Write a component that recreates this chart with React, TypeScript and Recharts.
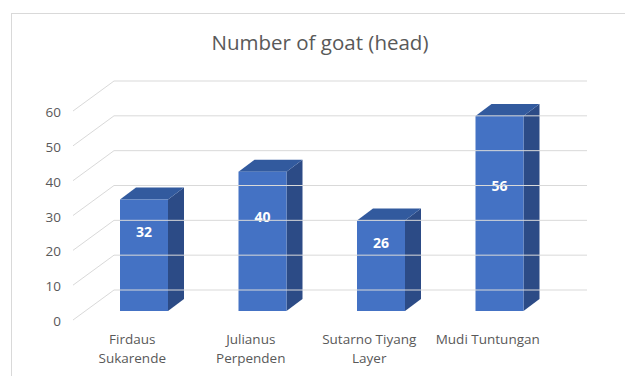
import { BarChart, Bar, XAxis, YAxis } from "recharts";

const categories = ["Firdaus Sukarende", "Julianus Perpenden", "Sutarno Tiyang Layer", "Mudi Tuntungan"];
const categoryLines = [["Firdaus", "Sukarende"], ["Julianus", "Perpenden"], ["Sutarno Tiyang", "Layer"], ["Mudi Tuntungan"]];
const goats = [32, 40, 26, 56];
const yTicks = [0, 10, 20, 30, 40, 50, 60];

const data = categories.map((name, i) => ({ name, goats: goats[i] }));

const W = 625;
const H = 376;
const MARGIN = { top: 102, right: 66, bottom: 25, left: 0 };
const PLOT_RIGHT = W - MARGIN.right;
const FONT = "'Open Sans', 'Noto Sans', sans-serif";
const TEXT = "#595959";
const GRID = "#d9d9d9";

// bar depth offsets (pseudo 3D)
const DX = 16;
const DY = 12;

const YTick = ({ x, y, payload }: any) => (
  <g>
    <line x1={x + 29} y1={y - 21} x2={PLOT_RIGHT + 28} y2={y - 21} stroke={GRID} strokeWidth={1} />
    <line x1={x - 12} y1={y + 9} x2={x + 29} y2={y - 21} stroke={GRID} strokeWidth={1} />
    <text x={x - 24} y={y + 10} textAnchor="end" dominantBaseline="central" fill={TEXT} fontSize={13.5} fontFamily={FONT}>
      {payload.value}
    </text>
  </g>
);

const XTick = ({ x, y, payload }: any) => {
  const lines = categoryLines[categories.indexOf(payload.value)] || [payload.value];
  return (
    <text x={x - 12} y={y} textAnchor="middle" fill={TEXT} fontSize={13.5} fontFamily={FONT}>
      {lines.map((l, i) => (
        <tspan key={i} x={x - 12} y={y + 28 + i * 19} dominantBaseline="central">
          {l}
        </tspan>
      ))}
    </text>
  );
};

const Bar3D = ({ x, y, width, height, value }: any) => {
  const top = `${x},${y} ${x + DX},${y - DY} ${x + width + DX},${y - DY} ${x + width},${y}`;
  const side = `${x + width},${y} ${x + width + DX},${y - DY} ${x + width + DX},${y + height - DY} ${x + width},${y + height}`;
  return (
    <g>
      <polygon points={side} fill="#2c4b86" />
      <polygon points={top} fill="#325a9e" />
      <rect x={x} y={y} width={width} height={height} fill="#4472c4" />
      <text
        x={x + width / 2}
        y={y + height * 0.456 - 19}
        textAnchor="middle"
        dominantBaseline="central"
        fill="#ffffff"
        fontSize={14}
        fontWeight="bold"
        fontFamily={FONT}
      >
        {value}
      </text>
    </g>
  );
};

export default function App() {
  return (
    <div style={{ position: "fixed", left: 0, top: 0, width: W, height: H, background: "#fff", overflow: "hidden" }}>
      <div
        style={{
          position: "absolute",
          left: 11,
          top: 13,
          width: 700,
          height: 500,
          border: `1px solid ${GRID}`,
        }}
      />
      <div
        style={{
          position: "absolute",
          left: 11,
          top: 28,
          width: 618,
          textAlign: "center",
          fontFamily: FONT,
          fontSize: 20.5,
          color: TEXT,
          lineHeight: "28px",
        }}
      >
        Number of goat (head)
      </div>
      <div style={{ position: "absolute", left: 0, top: 0 }}>
        <BarChart width={W} height={H} data={data} margin={MARGIN}>
          <YAxis
            zIndex={-100}
            width={85}
            domain={[0, 60]}
            ticks={yTicks}
            interval={0}
            axisLine={false}
            tickLine={false}
            tickSize={0}
            tickMargin={0}
            tick={<YTick />}
          />
          <XAxis
            dataKey="name"
            height={40}
            axisLine={false}
            tickLine={false}
            tickSize={0}
            tickMargin={0}
            interval={0}
            tick={<XTick />}
          />
          <Bar dataKey="goats" barSize={48} shape={<Bar3D />} isAnimationActive={false} />
        </BarChart>
      </div>
    </div>
  );
}
